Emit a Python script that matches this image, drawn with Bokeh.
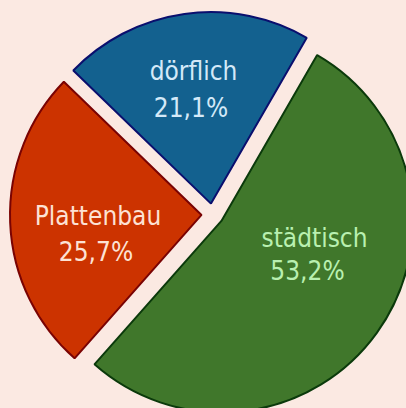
import math
from bokeh.plotting import figure
from bokeh.models import ColumnDataSource, Range1d
from bokeh.core.properties import value
from bokeh.embed import file_html
from bokeh.resources import INLINE

# ---- data ----
categories = ["dörflich", "Plattenbau", "städtisch"]
shares = [21.1, 25.7, 53.2]
pct_labels = ["21,1%", "25,7%", "53,2%"]
fill_colors = ["#13618f", "#cc3300", "#40772b"]
line_colors = ["#0a0f6e", "#7a0303", "#0b3a0b"]
text_colors = ["#d4e9f8", "#fde2d4", "#b9f0b0"]

# ---- layout constants ----
BG = "#fbe9e2"
START_DEG = 60.0
RADIUS = 191.5
EXPLODE = 11.0
# label anchors (line1 x, line1 y, line2 x, line2 y) in data units
label_pos = [(-19, 144, -21.5, 107), (-114.5, -1, -116.5, -37), (102, -23, 95, -56)]

total = sum(shares)
starts, ends, cx, cy = [], [], [], []
a = START_DEG
for s in shares:
    span = s / total * 360.0
    b = a + span
    mid = math.radians((a + b) / 2)
    starts.append(a)
    ends.append(b)
    cx.append(EXPLODE * math.cos(mid))
    cy.append(EXPLODE * math.sin(mid))
    a = b

src = ColumnDataSource(dict(x=cx, y=cy, start=starts, end=ends,
                            fill=fill_colors, line=line_colors, cat=categories))

p = figure(width=406, height=408, x_range=Range1d(-212, 194), y_range=Range1d(-194, 214),
           output_backend="svg", toolbar_location=None, min_border=0,
           background_fill_color=BG, border_fill_color=BG, outline_line_color=None)
p.axis.visible = False
p.grid.visible = False

p.wedge(x="x", y="y", radius=RADIUS, start_angle="start", end_angle="end",
        start_angle_units="deg", end_angle_units="deg", direction="anticlock",
        fill_color="fill", line_color="line", line_width=2, source=src)

lab = ColumnDataSource(dict(
    x=[lp[0] for lp in label_pos] + [lp[2] for lp in label_pos],
    y=[lp[1] for lp in label_pos] + [lp[3] for lp in label_pos],
    t=categories + pct_labels,
    c=text_colors + text_colors,
))
p.text(x="x", y="y", text="t", text_color="c", source=lab,
       text_font=value("DejaVu Sans Condensed"), text_font_size="26px",
       text_align="center", text_baseline="alphabetic")

html = file_html(p, INLINE)
html = html.replace("</head>", "<style>html,body{background:%s;}</style></head>" % BG, 1)
open("out.html", "w").write(html)
